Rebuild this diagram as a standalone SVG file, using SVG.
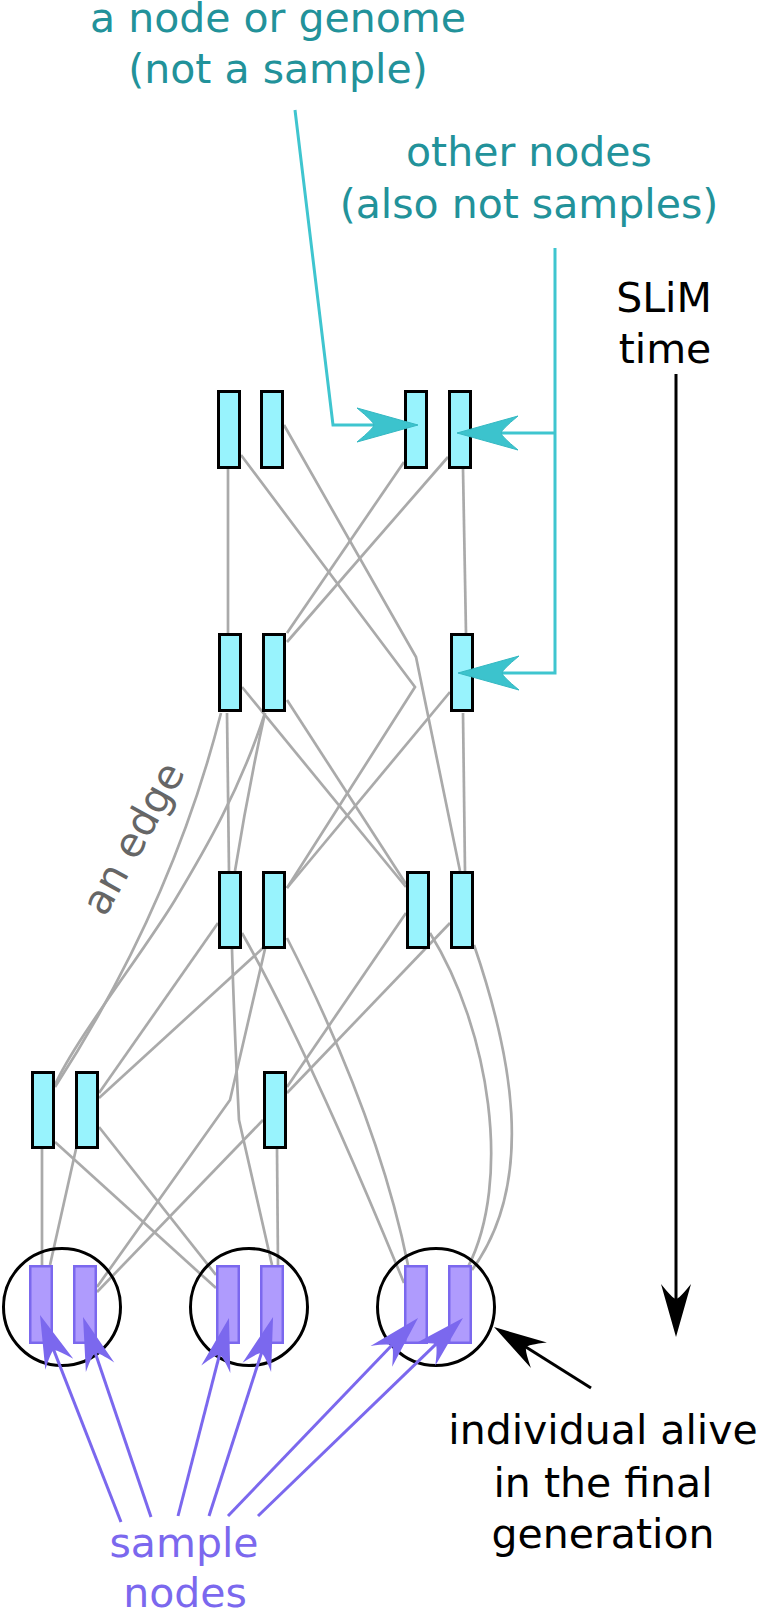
<svg xmlns="http://www.w3.org/2000/svg" width="758" height="1610" viewBox="0 0 758 1610">
<defs>
<style>
.edge{fill:none;stroke:#aaaaaa;stroke-width:2.7}
.node{fill:#98f3fd;stroke:#000;stroke-width:3}
.sample{fill:#af9bfd;stroke:#7b68ee;stroke-width:2.5}
.ind{fill:none;stroke:#000;stroke-width:3}
.cy{fill:none;stroke:#3fc5cf;stroke-width:3}
.pu{fill:none;stroke:#7b68ee;stroke-width:3}
.bk{fill:none;stroke:#000;stroke-width:3}
text{font-family:"DejaVu Sans","Liberation Sans",sans-serif;font-size:41px;text-anchor:middle}
.teal{fill:#22929a}
.purp{fill:#7b68ee}
.blk{fill:#000}
.gray{fill:#666}
</style>
<marker id="mc" markerUnits="userSpaceOnUse" viewBox="-66 -20 70 40" markerWidth="70" markerHeight="40" refX="-8" refY="0" orient="auto" overflow="visible">
<path d="M0,0 L-61,-17 Q-44,-3 -44,0 Q-44,3 -61,17 Z" fill="#3cc3cd" stroke="#35b8c2" stroke-width="1"/>
</marker>
<marker id="mp" markerUnits="userSpaceOnUse" viewBox="-60 -20 64 40" markerWidth="64" markerHeight="40" refX="-8" refY="0" orient="auto" overflow="visible">
<path d="M0,0 L-53,-15 Q-38,-3 -38,0 Q-38,3 -53,15 Z" fill="#7b68ee"/>
</marker>
<marker id="mb" markerUnits="userSpaceOnUse" viewBox="-60 -20 64 40" markerWidth="64" markerHeight="40" refX="-8" refY="0" orient="auto" overflow="visible">
<path d="M0,0 L-53,-15 Q-38,-3 -38,0 Q-38,3 -53,15 Z" fill="#000"/>
</marker>
</defs>
<rect width="758" height="1610" fill="#fff"/>

<g id="connectors">
<path class="edge" d="M228,469 L228,633"/>
<path class="edge" d="M241,455 L415,687 L287,888"/>
<path class="edge" d="M284,425 L416,657 L460,871"/>
<path class="edge" d="M404,462 L287,633"/>
<path class="edge" d="M448,457 L287,642"/>
<path class="edge" d="M463,469 L466,633"/>
<path class="edge" d="M221,713 Q172,906 55,1087"/>
<path class="edge" d="M227,713 L229,871"/>
<path class="edge" d="M242,687 L406,887"/>
<path class="edge" d="M265,713 C240,790 205,850 175,900 S75,1040 55,1085"/>
<path class="edge" d="M265,713 Q248,790 235,871"/>
<path class="edge" d="M287,700 L406,884"/>
<path class="edge" d="M450,692 L287,888"/>
<path class="edge" d="M463,713 L465,871"/>
<path class="edge" d="M218,923 L99,1093"/>
<path class="edge" d="M232,949 C234,1020 236,1060 239,1120 L272,1265"/>
<path class="edge" d="M242,933 Q308,1049 404,1283"/>
<path class="edge" d="M263,948 L99,1098"/>
<path class="edge" d="M265,949 L230,1100 L97,1287"/>
<path class="edge" d="M287,938 Q378,1117 408,1265"/>
<path class="edge" d="M406,913 L287,1087"/>
<path class="edge" d="M430,933 C490,1030 512,1180 468,1267"/>
<path class="edge" d="M450,923 L287,1093"/>
<path class="edge" d="M474,945 C510,1050 538,1180 472,1270"/>
<path class="edge" d="M42,1149 L42,1265"/>
<path class="edge" d="M55,1142 L216,1288"/>
<path class="edge" d="M76,1149 L50,1265"/>
<path class="edge" d="M99,1127 L216,1275"/>
<path class="edge" d="M277,1149 L278,1265"/>
<path class="edge" d="M263,1120 L97,1292"/>
</g>

<g id="individuals">
<circle id="ind1" class="ind" cx="62" cy="1307" r="58.5"/>
<circle id="ind2" class="ind" cx="249" cy="1307" r="58.5"/>
<circle id="ind3" class="ind" cx="436" cy="1307" r="58.5"/>
</g>

<g id="nodes">
<g id="n1a"><rect class="node" x="218.5" y="391.5" width="21" height="76"/></g>
<g id="n1b"><rect class="node" x="261.5" y="391.5" width="21" height="76"/></g>
<g id="n1c"><rect class="node" x="405.5" y="391.5" width="21" height="76"/></g>
<g id="n1d"><rect class="node" x="449.5" y="391.5" width="21" height="76"/></g>
<g id="n2a"><rect class="node" x="219.5" y="634.5" width="21" height="76"/></g>
<g id="n2b"><rect class="node" x="263.5" y="634.5" width="21" height="76"/></g>
<g id="n2c"><rect class="node" x="451.5" y="634.5" width="21" height="76"/></g>
<g id="n3a"><rect class="node" x="219.5" y="872.5" width="21" height="75"/></g>
<g id="n3b"><rect class="node" x="263.5" y="872.5" width="21" height="75"/></g>
<g id="n3c"><rect class="node" x="407.5" y="872.5" width="21" height="75"/></g>
<g id="n3d"><rect class="node" x="451.5" y="872.5" width="21" height="75"/></g>
<g id="n4a"><rect class="node" x="32.5" y="1072.5" width="21" height="75"/></g>
<g id="n4b"><rect class="node" x="76.5" y="1072.5" width="21" height="75"/></g>
<g id="n4c"><rect class="node" x="264.5" y="1072.5" width="21" height="75"/></g>
<g id="s1"><rect class="sample" x="30.25" y="1266.25" width="21.5" height="76.5"/></g>
<g id="s2"><rect class="sample" x="74.25" y="1266.25" width="21.5" height="76.5"/></g>
<g id="s3"><rect class="sample" x="217.25" y="1266.25" width="21.5" height="76.5"/></g>
<g id="s4"><rect class="sample" x="261.25" y="1266.25" width="21.5" height="76.5"/></g>
<g id="s5"><rect class="sample" x="405.25" y="1266.25" width="21.5" height="76.5"/></g>
<g id="s6"><rect class="sample" x="449.25" y="1266.25" width="21.5" height="76.5"/></g>
</g>

<g id="annotations">
<path class="cy" d="M295,110 L333,425 L410,425" marker-end="url(#mc)"/>
<path class="cy" d="M555,248 L555,673 L466,673" marker-end="url(#mc)"/>
<path class="cy" d="M555,433 L465,433" marker-end="url(#mc)"/>
<path class="pu" d="M121,1522 L42.9,1322.4" marker-end="url(#mp)"/>
<path class="pu" d="M151,1517 L85.6,1324.6" marker-end="url(#mp)"/>
<path class="pu" d="M178,1516 L227,1325.7" marker-end="url(#mp)"/>
<path class="pu" d="M209,1516 L270.6,1324.6" marker-end="url(#mp)"/>
<path class="pu" d="M228,1516 L412.5,1323.8" marker-end="url(#mp)"/>
<path class="pu" d="M258,1516 L457.2,1323.6" marker-end="url(#mp)"/>
<path class="bk" d="M676,374 L676,1329" marker-end="url(#mb)"/>
<path class="bk" d="M591,1388 L500.8,1331.3" marker-end="url(#mb)"/>
</g>

<g id="labels">
<text class="teal" x="278" y="32">a node or genome</text>
<text class="teal" x="278" y="83">(not a sample)</text>
<text class="teal" x="529" y="166">other nodes</text>
<text class="teal" x="529" y="218">(also not samples)</text>
<text class="blk" x="664" y="312">SLiM</text>
<text class="blk" x="665" y="363">time</text>
<text class="gray" transform="translate(105,918) rotate(-61)" x="0" y="0" style="text-anchor:start">an edge</text>
<text class="blk" x="603" y="1444">individual alive</text>
<text class="blk" x="603" y="1497">in the final</text>
<text class="blk" x="603" y="1548">generation</text>
<text class="purp" x="184" y="1557">sample</text>
<text class="purp" x="185" y="1607">nodes</text>
</g>
</svg>
